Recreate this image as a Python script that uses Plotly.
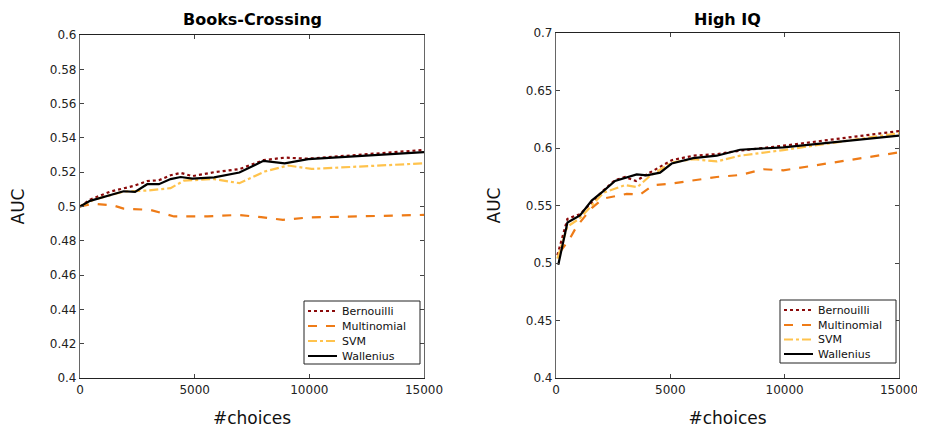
import plotly.graph_objects as go

# ---------- Books-Crossing ----------
bc_bern_x = [0, 440, 1320, 2340, 2930, 3440, 3950, 4390, 4900, 5850, 6950, 8000, 8925, 9950, 15000]
bc_bern_y = [0.5, 0.504, 0.5087, 0.512, 0.5148, 0.5153, 0.5182, 0.5196, 0.5177, 0.520, 0.5218, 0.527, 0.5285, 0.5279, 0.533]

bc_mult_x = [0, 585, 1460, 1900, 3070, 4100, 5560, 6880, 7900, 8850, 9950, 15000]
bc_mult_y = [0.5, 0.5016, 0.5006, 0.4988, 0.4980, 0.4942, 0.4942, 0.4951, 0.4938, 0.4922, 0.4936, 0.4951]

bc_svm_x = [0, 585, 1900, 2930, 3950, 4535, 5850, 6950, 8050, 9070, 10100, 15000]
bc_svm_y = [0.5, 0.5039, 0.5087, 0.5093, 0.5107, 0.5151, 0.516, 0.5136, 0.5204, 0.5239, 0.5219, 0.5252]

bc_wall_x = [0, 440, 1900, 2400, 2930, 3440, 3950, 4390, 4900, 5850, 6950, 8000, 8925, 9950, 15000]
bc_wall_y = [0.5, 0.5033, 0.5089, 0.5085, 0.513, 0.513, 0.516, 0.5172, 0.5163, 0.517, 0.5198, 0.5266, 0.5252, 0.5276, 0.5317]

# ---------- High IQ ----------
hq_bern_x = [60, 500, 1050, 1560, 2070, 2580, 3020, 3500, 3970, 5060, 6000, 7030, 8050, 9940, 15000]
hq_bern_y = [0.5067, 0.5384, 0.5425, 0.553, 0.563, 0.572, 0.5748, 0.5713, 0.5771, 0.5894, 0.5933, 0.5947, 0.5977, 0.602, 0.6147]

hq_mult_x = [180, 610, 900, 1560, 2070, 3090, 3670, 4250, 4990, 6300, 7030, 8050, 9070, 9940, 15000]
hq_mult_y = [0.5097, 0.5214, 0.5317, 0.5478, 0.556, 0.5601, 0.5595, 0.5677, 0.5689, 0.5727, 0.5748, 0.5765, 0.5815, 0.5806, 0.5962]

hq_svm_x = [60, 500, 1050, 1560, 2070, 3020, 3560, 4110, 5060, 6000, 7030, 8050, 9940, 15000]
hq_svm_y = [0.5038, 0.5317, 0.539, 0.5502, 0.561, 0.5677, 0.566, 0.5757, 0.5874, 0.5903, 0.5883, 0.5933, 0.5982, 0.6129]

hq_wall_x = [100, 500, 1050, 1560, 2070, 2580, 3530, 3970, 4550, 5060, 6000, 7030, 8050, 9940, 15000]
hq_wall_y = [0.4985, 0.5352, 0.5413, 0.5543, 0.5625, 0.5713, 0.5771, 0.5762, 0.5786, 0.5865, 0.5912, 0.5933, 0.5985, 0.6006, 0.6108]

names = ["Bernouilli", "Multinomial", "SVM", "Wallenius"]
x_ticks = [0, 5000, 10000, 15000]
x_ticktext = ["0", "5000", "10000", "15000"]
bc_y_ticks = [0.4, 0.42, 0.44, 0.46, 0.48, 0.5, 0.52, 0.54, 0.56, 0.58, 0.6]
bc_y_ticktext = ["0.4", "0.42", "0.44", "0.46", "0.48", "0.5", "0.52", "0.54", "0.56", "0.58", "0.6"]
hq_y_ticks = [0.4, 0.45, 0.5, 0.55, 0.6, 0.65, 0.7]
hq_y_ticktext = ["0.4", "0.45", "0.5", "0.55", "0.6", "0.65", "0.7"]

styles = [
    dict(color="#8B0A0A", dash="dot", width=2.2),
    dict(color="#EE7B17", dash="dash", width=2.2),
    dict(color="#FFC34D", dash="dashdot", width=2.2),
    dict(color="#000000", dash="solid", width=2.2),
]

FONT = "DejaVu Sans"
fig = go.Figure()

left = [(bc_bern_x, bc_bern_y), (bc_mult_x, bc_mult_y), (bc_svm_x, bc_svm_y), (bc_wall_x, bc_wall_y)]
right = [(hq_bern_x, hq_bern_y), (hq_mult_x, hq_mult_y), (hq_svm_x, hq_svm_y), (hq_wall_x, hq_wall_y)]

for (xs, ys), nm, st in zip(left, names, styles):
    fig.add_trace(go.Scatter(x=xs, y=ys, mode="lines", name=nm, line=st,
                             xaxis="x", yaxis="y", showlegend=False))
for (xs, ys), nm, st in zip(right, names, styles):
    fig.add_trace(go.Scatter(x=xs, y=ys, mode="lines", name=nm, line=st,
                             xaxis="x2", yaxis="y2", showlegend=False))

# page body has an 8px default margin, so the figure is offset by 8px
OFF = 8
W, H = 925 - OFF, 430 - OFF
def px_x(p): return (p - OFF) / W
def px_y(p): return 1 - (p - OFF) / H

axis_common = dict(showgrid=False, zeroline=False, ticks="inside", ticklen=4,
                   mirror="ticks", showline=True, linewidth=1.2, automargin=False,
                   tickfont=dict(family=FONT, size=12, color="#222"),
                   title_font=dict(family=FONT, size=17, color="#111"))

shapes = []
annotations = [
    dict(text="<b>Books-Crossing</b>", x=px_x(252), y=1.0, xref="paper", yref="paper",
         showarrow=False, font=dict(family=FONT, size=16, color="#000"),
         xanchor="center", yanchor="top"),
    dict(text="<b>High IQ</b>", x=px_x(727), y=1.0, xref="paper", yref="paper",
         showarrow=False, font=dict(family=FONT, size=16, color="#000"),
         xanchor="center", yanchor="top"),
]

# legend boxes (drawn as paper-space shapes to match the compact reference legend)
def add_legend(box, rows_y, x_line0, x_line1, x_text):
    x0, y0, x1, y1 = box
    shapes.append(dict(type="rect", xref="paper", yref="paper",
                       x0=px_x(x0), x1=px_x(x1), y0=px_y(y1), y1=px_y(y0),
                       line=dict(color="#222", width=1), fillcolor="white", layer="above"))
    for nm, st, ry in zip(names, styles, rows_y):
        shapes.append(dict(type="line", xref="paper", yref="paper",
                           x0=px_x(x_line0), x1=px_x(x_line1), y0=px_y(ry), y1=px_y(ry),
                           line=dict(color=st["color"], dash=st["dash"], width=2), layer="above"))
        annotations.append(dict(text=nm, x=px_x(x_text), y=px_y(ry), xref="paper", yref="paper",
                                showarrow=False, xanchor="left", yanchor="middle",
                                font=dict(family=FONT, size=11, color="#111")))

add_legend((304, 301, 420, 364), [311, 326, 341, 356], 308, 337, 340)
add_legend((780, 300, 896, 363), [310, 325, 339.5, 354], 784, 813, 816)

fig.update_layout(
    width=W, height=H,
    margin=dict(l=0, r=0, t=0, b=0),
    plot_bgcolor="white", paper_bgcolor="white",
    font=dict(family=FONT),
    showlegend=False,
    xaxis=dict(domain=[px_x(80), px_x(424)], range=[0, 15000], anchor="y",
               tickvals=x_ticks, ticktext=x_ticktext, linecolor="#222",
               title=dict(text="#choices", standoff=16), **axis_common),
    yaxis=dict(domain=[px_y(378), px_y(35)], range=[0.4, 0.6], anchor="x",
               tickvals=bc_y_ticks, ticktext=bc_y_ticktext, linecolor="#666",
               title=dict(text="AUC", standoff=20), **axis_common),
    xaxis2=dict(domain=[px_x(556), px_x(899)], range=[0, 15000], anchor="y2",
                tickvals=x_ticks, ticktext=x_ticktext, linecolor="#222",
                title=dict(text="#choices", standoff=16), **axis_common),
    yaxis2=dict(domain=[px_y(378), px_y(33)], range=[0.4, 0.7], anchor="x2",
                tickvals=hq_y_ticks, ticktext=hq_y_ticktext, linecolor="#666",
                title=dict(text="AUC", standoff=20), **axis_common),
    shapes=shapes,
    annotations=annotations,
)

fig.write_html("out.html")
